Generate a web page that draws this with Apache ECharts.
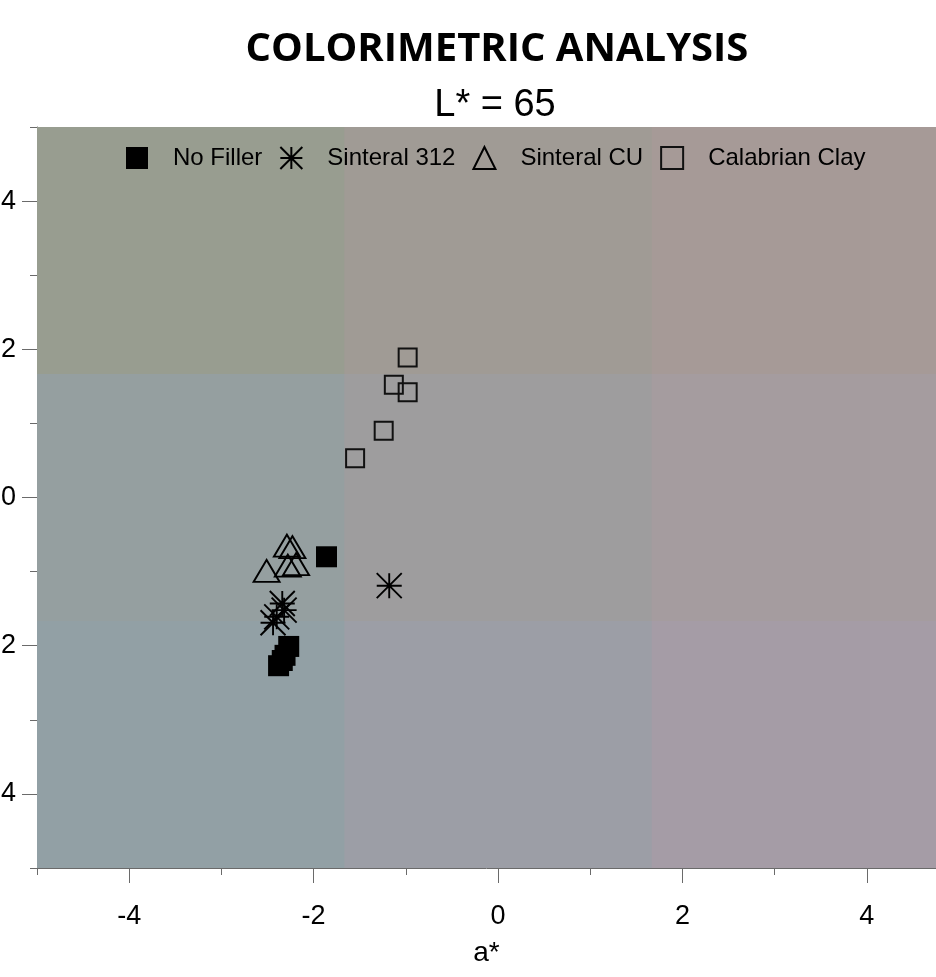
<!DOCTYPE html>
<html>
<head>
<meta charset="utf-8">
<script src="https://cdn.jsdelivr.net/npm/echarts@6/dist/echarts.min.js"></script>
<style>
html,body{margin:0;padding:0;background:#fff;}
#chart{width:936px;height:977px;}
</style>
</head>
<body>
<div id="chart"></div>
<script>
// ---- data ----
var seriesNames = ['No Filler', 'Sinteral 312', 'Sinteral CU', 'Calabrian Clay'];
var noFillerX = [-1.86, -2.27, -2.31, -2.34, -2.38];
var noFillerY = [-0.80, -2.01, -2.13, -2.20, -2.27];
var sinteral312X = [-1.18, -2.34, -2.32, -2.40, -2.44];
var sinteral312Y = [-1.19, -1.43, -1.52, -1.61, -1.69];
var sinteralCUX = [-2.51, -2.29, -2.23, -2.28, -2.19];
var sinteralCUY = [-0.99, -0.65, -0.67, -0.92, -0.90];
var calabrianX = [-0.98, -1.13, -0.98, -1.24, -1.55];
var calabrianY = [1.89, 1.52, 1.42, 0.90, 0.53];
var xMin = -5, xMax = 4.75, yMin = -5, yMax = 5;
var xTickLabels = [-4, -2, 0, 2, 4];
var yTickLabels = [-4, -2, 0, 2, 4];
var xBandEdges = [-5, -1.667, 1.667, 4.75];
var yBandEdges = [-5, -1.667, 1.667, 5];
// colours rows from top (high b*) to bottom, columns left to right
var bandColors = [
  ['#989d90', '#a09b95', '#a69a97'],
  ['#959fa0', '#9e9d9e', '#a59c9f'],
  ['#92a0a5', '#9c9ea6', '#a59ca6']
];

function pts(xs, ys) { return xs.map(function (x, i) { return [x, ys[i]]; }); }

// each cell runs from its own top-left corner to the bottom-right of the plot;
// later cells paint over earlier ones, so no seams appear between cells
var areas = [];
for (var r = 0; r < 3; r++) {
  for (var c = 0; c < 3; c++) {
    var yTop = yBandEdges[3 - r];
    areas.push([
      { xAxis: xBandEdges[c], yAxis: yTop, itemStyle: { color: bandColors[r][c], opacity: 1, borderWidth: 0 } },
      { xAxis: xBandEdges[3], yAxis: yBandEdges[0] }
    ]);
  }
}

var asterisk = 'path://M0,-10L0,10M-10,0L10,0M-10,-10L10,10M-10,10L10,-10';
var FONT = '"Liberation Sans", Arial, sans-serif';
var axisColor = '#6a6a6a';

var chart = echarts.init(document.getElementById('chart'), null, { renderer: 'canvas' });
chart.setOption({
  animation: false,
  backgroundColor: '#ffffff',
  title: [
    { text: 'COLORIMETRIC ANALYSIS', left: 492, top: 25, textAlign: 'center',
      textStyle: { fontFamily: '"Open Sans", sans-serif', fontWeight: 'bold', fontSize: 40, color: '#000' } },
    { text: 'L* = 65', left: 490, top: 82, textAlign: 'center',
      textStyle: { fontFamily: FONT, fontWeight: 'normal', fontSize: 38, color: '#000' } }
  ],
  legend: {
    data: seriesNames,
    left: 121, top: 141,
    itemWidth: 22, itemHeight: 22, itemGap: 17,
    textStyle: { fontFamily: FONT, fontSize: 24, color: '#000', padding: [0, 0, 0, 20] }
  },
  grid: { left: 37, right: 0, top: 127, bottom: 109, containLabel: false, outerBoundsMode: 'none' },
  xAxis: [
    { type: 'value', min: xMin, max: xMax, interval: 1, position: 'bottom',
      axisLine: { show: true, onZero: false, lineStyle: { color: axisColor, width: 1 } },
      axisTick: { show: true, length: 7, lineStyle: { color: axisColor } },
      axisLabel: { show: false }, splitLine: { show: false } },
    { type: 'value', min: xMin, max: xMax, position: 'bottom',
      name: 'a*', nameLocation: 'middle', nameGap: 71,
      nameTextStyle: { fontFamily: FONT, fontSize: 28, color: '#000' },
      axisLine: { show: false, onZero: false },
      axisTick: { show: true, length: 15, customValues: xTickLabels, lineStyle: { color: axisColor } },
      axisLabel: { show: true, customValues: xTickLabels, margin: 35, fontFamily: FONT, fontSize: 27, color: '#000' },
      splitLine: { show: false } }
  ],
  yAxis: [
    { type: 'value', min: yMin, max: yMax, interval: 1, position: 'left',
      axisLine: { show: true, onZero: false, lineStyle: { color: axisColor, width: 1 } },
      axisTick: { show: true, length: 7, lineStyle: { color: axisColor } },
      axisLabel: { show: false }, splitLine: { show: false } },
    { type: 'value', min: yMin, max: yMax, position: 'left',
      axisLine: { show: false, onZero: false },
      axisTick: { show: true, length: 15, customValues: yTickLabels, lineStyle: { color: axisColor } },
      axisLabel: { show: true, customValues: yTickLabels, margin: 21, fontFamily: FONT, fontSize: 27, color: '#000' },
      splitLine: { show: false } }
  ],
  series: [
    { name: 'bg', type: 'scatter', data: [], z: 0, silent: true,
      markArea: { silent: true, data: areas } },
    { name: 'No Filler', type: 'scatter', z: 3, symbol: 'rect', symbolSize: 21,
      itemStyle: { color: '#000', opacity: 1 }, data: pts(noFillerX, noFillerY) },
    { name: 'Sinteral 312', type: 'scatter', z: 3, symbol: asterisk, symbolSize: 25,
      itemStyle: { color: 'rgba(0,0,0,0)', borderColor: '#000', borderWidth: 1.9, opacity: 1 },
      data: pts(sinteral312X, sinteral312Y) },
    { name: 'Sinteral CU', type: 'scatter', z: 3, symbol: 'triangle', symbolSize: [26, 22],
      itemStyle: { color: 'rgba(0,0,0,0)', borderColor: '#000', borderWidth: 1.9, opacity: 1 },
      data: pts(sinteralCUX, sinteralCUY) },
    { name: 'Calabrian Clay', type: 'scatter', z: 3, symbol: 'rect', symbolSize: 18,
      itemStyle: { color: 'rgba(0,0,0,0)', borderColor: '#111', borderWidth: 2, opacity: 1 },
      data: pts(calabrianX, calabrianY) }
  ]
});
</script>
</body>
</html>
